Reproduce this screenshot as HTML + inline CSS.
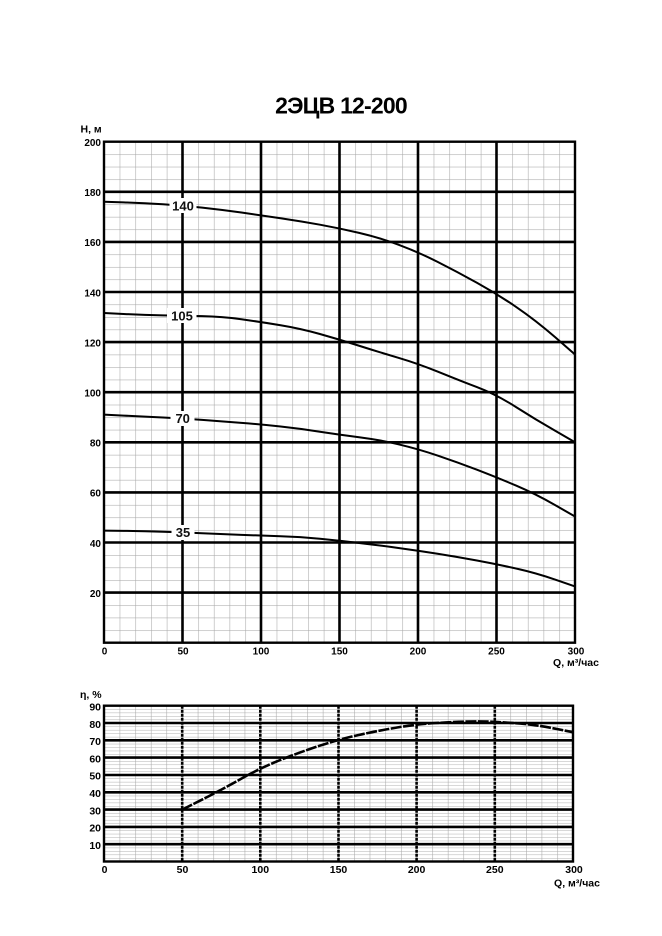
<!DOCTYPE html>
<html>
<head>
<meta charset="utf-8">
<style>
html,body{margin:0;padding:0;background:#fff;}
svg{display:block;}
text{font-family:"Liberation Sans",Arial,sans-serif;}
</style>
</head>
<body>
<svg width="662" height="936" viewBox="0 0 662 936" xmlns="http://www.w3.org/2000/svg">
<defs>
  <pattern id="gTop" patternUnits="userSpaceOnUse" x="104" y="141.7" width="15.7" height="12.525">
    <line x1="0" y1="0" x2="0" y2="12.525" stroke="#a8a8a8" stroke-width="1.1"/>
    <line x1="0" y1="0" x2="15.7" y2="0" stroke="#a8a8a8" stroke-width="1.1"/>
  </pattern>
  <pattern id="gBotV" patternUnits="userSpaceOnUse" x="104" y="705.7" width="15.63" height="20">
    <line x1="0" y1="0" x2="0" y2="20" stroke="#a8a8a8" stroke-width="1.1"/>
  </pattern>
  <pattern id="gBotH" patternUnits="userSpaceOnUse" x="104" y="705.7" width="20" height="3.462">
    <line x1="0" y1="0" x2="20" y2="0" stroke="#b0b0b0" stroke-width="1"/>
  </pattern>
</defs>

<!-- Title -->
<text x="341" y="113.3" font-size="23" font-weight="bold" text-anchor="middle" letter-spacing="-0.8">2ЭЦВ 12-200</text>

<!-- ============ TOP CHART ============ -->
<rect x="104" y="141.7" width="471" height="501" fill="url(#gTop)"/>
<g stroke="#000" stroke-width="2.6">
  <line x1="182.5" y1="141.7" x2="182.5" y2="642.7"/>
  <line x1="261" y1="141.7" x2="261" y2="642.7"/>
  <line x1="339.5" y1="141.7" x2="339.5" y2="642.7"/>
  <line x1="418" y1="141.7" x2="418" y2="642.7"/>
  <line x1="496.5" y1="141.7" x2="496.5" y2="642.7"/>
  <line x1="104" y1="592.6" x2="575" y2="592.6"/>
  <line x1="104" y1="542.5" x2="575" y2="542.5"/>
  <line x1="104" y1="492.4" x2="575" y2="492.4"/>
  <line x1="104" y1="442.3" x2="575" y2="442.3"/>
  <line x1="104" y1="392.2" x2="575" y2="392.2"/>
  <line x1="104" y1="342.1" x2="575" y2="342.1"/>
  <line x1="104" y1="292.0" x2="575" y2="292.0"/>
  <line x1="104" y1="241.9" x2="575" y2="241.9"/>
  <line x1="104" y1="191.8" x2="575" y2="191.8"/>
</g>
<rect x="104" y="141.7" width="471" height="501" fill="none" stroke="#000" stroke-width="2.4"/>

<!-- curves -->
<g fill="none" stroke="#000" stroke-width="2" stroke-linejoin="round">
  <path d="M104,201.8 L123.6,202.4 Q143.25,203.0 162.9,204.25 Q182.5,205.5 202.1,207.65 Q221.75,209.8 241.4,212.55 Q261,215.3 280.6,218.2 Q300.25,221.1 319.9,224.7 Q339.5,228.3 359.1,232.85 Q378.75,237.4 398.4,244.65 Q418,251.9 437.6,261.9 Q457.25,271.9 476.9,282.7 Q496.5,293.5 516.1,306.9 Q535.75,320.3 555.4,337.4 L575,354.5"/>
  <path d="M104,313.0 L123.6,314.0 Q143.25,315.0 162.9,315.35 Q182.5,315.7 202.1,316.1 Q221.75,316.5 241.4,319.25 Q261,322.0 280.6,325.25 Q300.25,328.5 319.9,334.0 Q339.5,339.5 359.1,345.75 Q378.75,352.0 398.4,357.8 Q418,363.6 437.6,371.6 Q457.25,379.6 476.9,387.1 Q496.5,394.6 516.1,407.1 Q535.75,419.6 555.4,430.9 L575,442.2"/>
  <path d="M104,414.6 L123.6,415.6 Q143.25,416.6 162.9,417.5 Q182.5,418.4 202.1,419.9 Q221.75,421.4 241.4,422.9 Q261,424.4 280.6,426.55 Q300.25,428.7 319.9,431.7 Q339.5,434.7 359.1,437.2 Q378.75,439.7 398.4,444.3 Q418,448.9 437.6,455.55 Q457.25,462.2 476.9,469.7 Q496.5,477.2 516.1,485.6 Q535.75,494.0 555.4,505.25 L575,516.5"/>
  <path d="M104,530.6 L123.6,530.85 Q143.25,531.1 162.9,531.7 Q182.5,532.3 202.1,533.2 Q221.75,534.1 241.4,534.85 Q261,535.6 280.6,536.2 Q300.25,536.8 319.9,538.7 Q339.5,540.6 359.1,542.95 Q378.75,545.3 398.4,547.95 Q418,550.6 437.6,553.75 Q457.25,556.9 476.9,560.5 Q496.5,564.1 516.1,568.5 Q535.75,572.9 555.4,579.65 L575,586.4"/>
</g>

<!-- curve labels -->
<rect x="169.5" y="198" width="27" height="15" fill="#fff"/>
<rect x="167" y="308" width="29.5" height="15" fill="#fff"/>
<rect x="170.5" y="411" width="24" height="15" fill="#fff"/>
<rect x="171.5" y="525" width="23" height="15" fill="#fff"/>
<g font-size="13" text-anchor="middle" font-weight="bold" fill="#111">
  <text x="183" y="210.5">140</text>
  <text x="182" y="320.5">105</text>
  <text x="182.7" y="423">70</text>
  <text x="183" y="537">35</text>
</g>

<!-- top axis labels -->
<text x="80.5" y="132.7" font-size="10.5" font-weight="bold">H, м</text>
<g font-size="10" font-weight="bold" text-anchor="end">
  <text x="101" y="146">200</text>
  <text x="101" y="196.1">180</text>
  <text x="101" y="246.2">160</text>
  <text x="101" y="296.3">140</text>
  <text x="101" y="346.4">120</text>
  <text x="101" y="396.5">100</text>
  <text x="101" y="446.6">80</text>
  <text x="101" y="496.7">60</text>
  <text x="101" y="546.8">40</text>
  <text x="101" y="596.9">20</text>
</g>
<g font-size="10" font-weight="bold" text-anchor="middle">
  <text x="104.5" y="654.5">0</text>
  <text x="183" y="654.5">50</text>
  <text x="261" y="654.5">100</text>
  <text x="339.5" y="654.5">150</text>
  <text x="418" y="654.5">200</text>
  <text x="496.5" y="654.5">250</text>
  <text x="576" y="654.5">300</text>
</g>
<text x="599" y="666" font-size="10.5" font-weight="bold" text-anchor="end">Q, м³/час</text>

<!-- ============ BOTTOM CHART ============ -->
<rect x="104" y="705.7" width="469" height="155.8" fill="url(#gBotH)"/>
<rect x="104" y="705.7" width="469" height="155.8" fill="url(#gBotV)"/>
<g stroke="#000" stroke-width="2.6">
  <line x1="104" y1="844.2" x2="573" y2="844.2"/>
  <line x1="104" y1="826.9" x2="573" y2="826.9"/>
  <line x1="104" y1="809.6" x2="573" y2="809.6"/>
  <line x1="104" y1="792.3" x2="573" y2="792.3"/>
  <line x1="104" y1="775.0" x2="573" y2="775.0"/>
  <line x1="104" y1="757.6" x2="573" y2="757.6"/>
  <line x1="104" y1="740.3" x2="573" y2="740.3"/>
  <line x1="104" y1="723.0" x2="573" y2="723.0"/>
</g>
<g stroke="#000" stroke-width="2.6" stroke-dasharray="3,1">
  <line x1="182.2" y1="705.7" x2="182.2" y2="861.5"/>
  <line x1="260.3" y1="705.7" x2="260.3" y2="861.5"/>
  <line x1="338.5" y1="705.7" x2="338.5" y2="861.5"/>
  <line x1="416.6" y1="705.7" x2="416.6" y2="861.5"/>
  <line x1="494.8" y1="705.7" x2="494.8" y2="861.5"/>
</g>
<rect x="104" y="705.7" width="469" height="155.8" fill="none" stroke="#000" stroke-width="2.4"/>

<path fill="none" stroke="#000" stroke-width="2.6" stroke-dasharray="11,1.5" stroke-linejoin="round"
  d="M182.2,809.6 L201.7,799.8 Q221.2,790.0 240.75,779.0 Q260.3,768.0 279.85,760.2 Q299.4,752.4 318.95,745.95 Q338.5,739.5 358,735.15 Q377.5,730.8 397.05,727.5 Q416.6,724.2 436.15,723.0 Q455.7,721.8 467.4,721.55 Q479.1,721.3 486.95,721.55 Q494.8,721.8 514.3,723.1 Q533.8,724.4 553.35,728.3 L572.9,732.2"/>

<text x="80" y="698" font-size="10.5" font-weight="bold">η, %</text>
<g font-size="10.5" font-weight="bold" text-anchor="end">
  <text x="101" y="710.5">90</text>
  <text x="101" y="727.8">80</text>
  <text x="101" y="745.1">70</text>
  <text x="101" y="762.4">60</text>
  <text x="101" y="779.7">50</text>
  <text x="101" y="797.0">40</text>
  <text x="101" y="814.3">30</text>
  <text x="101" y="831.6">20</text>
  <text x="101" y="848.9">10</text>
</g>
<g font-size="10.5" font-weight="bold" text-anchor="middle">
  <text x="104.5" y="873">0</text>
  <text x="182.5" y="873">50</text>
  <text x="260.3" y="873">100</text>
  <text x="338.5" y="873">150</text>
  <text x="416.6" y="873">200</text>
  <text x="494.8" y="873">250</text>
  <text x="574" y="873">300</text>
</g>
<text x="600" y="886.5" font-size="10.5" font-weight="bold" text-anchor="end">Q, м³/час</text>
</svg>
</body>
</html>
